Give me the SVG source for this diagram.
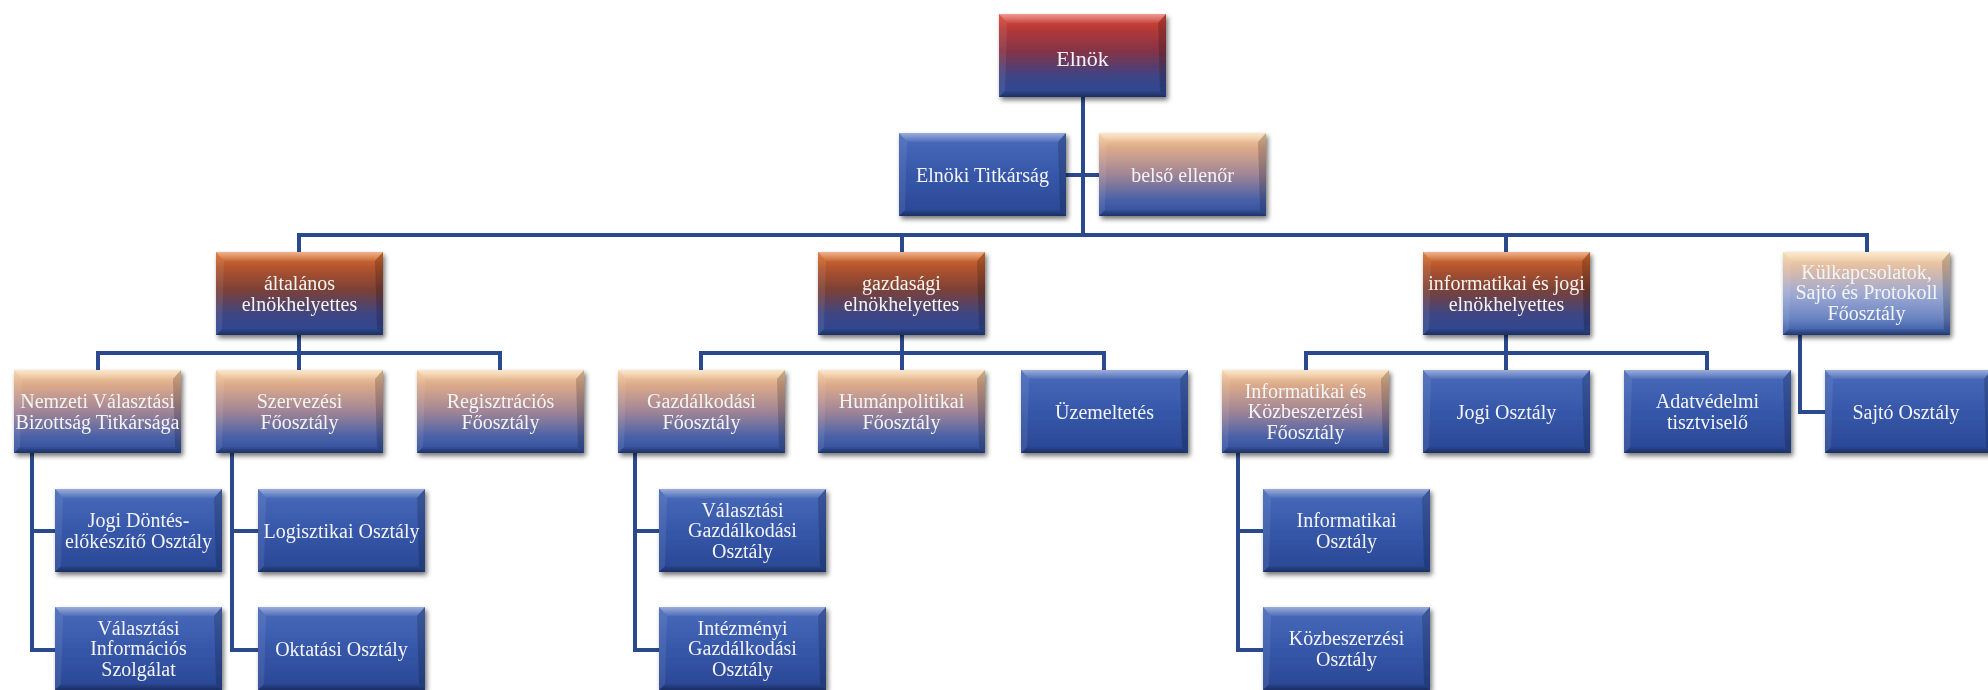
<svg xmlns="http://www.w3.org/2000/svg" xmlns:xlink="http://www.w3.org/1999/xlink" width="1988" height="690" viewBox="0 0 1988 690">
<style>
.lbl{font-family:"Liberation Serif","Times New Roman",serif;font-size:20px;fill:#f4f4f4;text-anchor:middle}
.big{font-size:22px}
.conn{fill:none;stroke:#2b4a8e;stroke-width:4;stroke-linejoin:miter;stroke-linecap:butt}
.box{filter:url(#sh)}
</style>
<defs>
<filter id="sh" x="-10%" y="-10%" width="125%" height="130%">
<feDropShadow dx="2" dy="3" stdDeviation="2.5" flood-color="#000" flood-opacity="0.55"/>
</filter>
<linearGradient id="gBlue" x1="0" y1="0" x2="0" y2="1">
<stop offset="0" stop-color="#4a6bbb"/><stop offset="0.5" stop-color="#3657a9"/><stop offset="1" stop-color="#2a4794"/>
</linearGradient>
<linearGradient id="gRed" x1="0" y1="0" x2="0" y2="1">
<stop offset="0" stop-color="#e0493a"/><stop offset="0.18" stop-color="#b43a38"/><stop offset="0.45" stop-color="#843346"/><stop offset="0.75" stop-color="#3e4486"/><stop offset="1" stop-color="#2b4894"/>
</linearGradient>
<linearGradient id="gOrange" x1="0" y1="0" x2="0" y2="1">
<stop offset="0" stop-color="#e0742f"/><stop offset="0.18" stop-color="#b3552d"/><stop offset="0.45" stop-color="#7c4135"/><stop offset="0.75" stop-color="#3e4584"/><stop offset="1" stop-color="#2b4894"/>
</linearGradient>
<linearGradient id="gPeach" x1="0" y1="0" x2="0" y2="1">
<stop offset="0" stop-color="#f8d3a2"/><stop offset="0.18" stop-color="#dcaa8a"/><stop offset="0.5" stop-color="#a08596"/><stop offset="0.8" stop-color="#4b62a8"/><stop offset="1" stop-color="#2f4d9c"/>
</linearGradient>
<linearGradient id="gKul" x1="0" y1="0" x2="0" y2="1">
<stop offset="0" stop-color="#fad8a8"/><stop offset="0.18" stop-color="#e2bea4"/><stop offset="0.5" stop-color="#9eaad2"/><stop offset="0.8" stop-color="#6a84c2"/><stop offset="1" stop-color="#3355a4"/>
</linearGradient>
<linearGradient id="bTop" x1="0" y1="0" x2="0" y2="1">
<stop offset="0" stop-color="#fff" stop-opacity="0.45"/><stop offset="1" stop-color="#fff" stop-opacity="0.05"/>
</linearGradient>
<linearGradient id="bBot" x1="0" y1="0" x2="0" y2="1">
<stop offset="0" stop-color="#000" stop-opacity="0.05"/><stop offset="1" stop-color="#000" stop-opacity="0.35"/>
</linearGradient>
<g id="bevel">
<polygon points="0,0 167,0 159,9 8,9" fill="url(#bTop)"/>
<polygon points="0,83 167,83 161,77 6,77" fill="url(#bBot)"/>
<polygon points="0,0 8,9 6,77 0,83" fill="#fff" fill-opacity="0.08"/>
<polygon points="167,0 159,9 161,77 167,83" fill="#000" fill-opacity="0.18"/>
</g>
</defs>
<rect width="1988" height="690" fill="#fff"/>

<g id="connectors">
<path class="conn" d="M1083 97V235M299 235H1867M299 233V252M902 233V252M1506 233V252M1867 233V252"/>
<path class="conn" d="M1066 175H1099"/>
<path class="conn" d="M299 335V353M98 353H500M98 351V370M299 351V370M500 351V370"/>
<path class="conn" d="M902 335V353M701 353H1104M701 351V370M902 351V370M1104 351V370"/>
<path class="conn" d="M1506 335V353M1306 353H1707M1306 351V370M1506 351V370M1707 351V370"/>
<path class="conn" d="M1800 335V412H1825"/>
<path class="conn" d="M32 453V650H55M32 531H55"/>
<path class="conn" d="M232 453V650H258M232 531H258"/>
<path class="conn" d="M635 453V650H659M635 531H659"/>
<path class="conn" d="M1238 453V650H1263M1238 531H1263"/>
</g>

<g id="n-elnok" class="box" transform="translate(999,14)"><rect width="167" height="83" fill="url(#gRed)"/><use href="#bevel"/><text class="lbl big" x="83.5" y="52">Elnök</text></g>
<g id="n-titkarsag" class="box" transform="translate(899,133)"><rect width="167" height="83" fill="url(#gBlue)"/><use href="#bevel"/><text class="lbl" x="83.5" y="48.5">Elnöki Titkárság</text></g>
<g id="n-belso" class="box" transform="translate(1099,133)"><rect width="167" height="83" fill="url(#gPeach)"/><use href="#bevel"/><text class="lbl" x="83.5" y="48.5">belső ellenőr</text></g>

<g id="n-altalanos" class="box" transform="translate(216,252)"><rect width="167" height="83" fill="url(#gOrange)"/><use href="#bevel"/><text class="lbl" x="83.5" y="38">általános<tspan x="83.5" dy="20.5">elnökhelyettes</tspan></text></g>
<g id="n-gazdasagi" class="box" transform="translate(818,252)"><rect width="167" height="83" fill="url(#gOrange)"/><use href="#bevel"/><text class="lbl" x="83.5" y="38">gazdasági<tspan x="83.5" dy="20.5">elnökhelyettes</tspan></text></g>
<g id="n-infjogi" class="box" transform="translate(1423,252)"><rect width="167" height="83" fill="url(#gOrange)"/><use href="#bevel"/><text class="lbl" x="83.5" y="38">informatikai és jogi<tspan x="83.5" dy="20.5">elnökhelyettes</tspan></text></g>
<g id="n-kulkapcs" class="box" transform="translate(1783,252)"><rect width="167" height="83" fill="url(#gKul)"/><use href="#bevel"/><text class="lbl" x="83.5" y="26.5">Külkapcsolatok,<tspan x="83.5" dy="20.5">Sajtó és Protokoll</tspan><tspan x="83.5" dy="20.5">Főosztály</tspan></text></g>

<g id="n-nvb" class="box" transform="translate(14,370)"><rect width="167" height="83" fill="url(#gPeach)"/><use href="#bevel"/><text class="lbl" x="83.5" y="38">Nemzeti Választási<tspan x="83.5" dy="20.5">Bizottság Titkársága</tspan></text></g>
<g id="n-szervezesi" class="box" transform="translate(216,370)"><rect width="167" height="83" fill="url(#gPeach)"/><use href="#bevel"/><text class="lbl" x="83.5" y="38">Szervezési<tspan x="83.5" dy="20.5">Főosztály</tspan></text></g>
<g id="n-regisztracios" class="box" transform="translate(417,370)"><rect width="167" height="83" fill="url(#gPeach)"/><use href="#bevel"/><text class="lbl" x="83.5" y="38">Regisztrációs<tspan x="83.5" dy="20.5">Főosztály</tspan></text></g>
<g id="n-gazdalkodasi" class="box" transform="translate(618,370)"><rect width="167" height="83" fill="url(#gPeach)"/><use href="#bevel"/><text class="lbl" x="83.5" y="38">Gazdálkodási<tspan x="83.5" dy="20.5">Főosztály</tspan></text></g>
<g id="n-human" class="box" transform="translate(818,370)"><rect width="167" height="83" fill="url(#gPeach)"/><use href="#bevel"/><text class="lbl" x="83.5" y="38">Humánpolitikai<tspan x="83.5" dy="20.5">Főosztály</tspan></text></g>
<g id="n-uzem" class="box" transform="translate(1021,370)"><rect width="167" height="83" fill="url(#gBlue)"/><use href="#bevel"/><text class="lbl" x="83.5" y="48.5">Üzemeltetés</text></g>
<g id="n-infkozb" class="box" transform="translate(1222,370)"><rect width="167" height="83" fill="url(#gPeach)"/><use href="#bevel"/><text class="lbl" x="83.5" y="27.5">Informatikai és<tspan x="83.5" dy="20.5">Közbeszerzési</tspan><tspan x="83.5" dy="20.5">Főosztály</tspan></text></g>
<g id="n-jogi" class="box" transform="translate(1423,370)"><rect width="167" height="83" fill="url(#gBlue)"/><use href="#bevel"/><text class="lbl" x="83.5" y="48.5">Jogi Osztály</text></g>
<g id="n-adatv" class="box" transform="translate(1624,370)"><rect width="167" height="83" fill="url(#gBlue)"/><use href="#bevel"/><text class="lbl" x="83.5" y="38">Adatvédelmi<tspan x="83.5" dy="20.5">tisztviselő</tspan></text></g>
<g id="n-sajto" class="box" transform="translate(1825,370)"><rect width="167" height="83" fill="url(#gBlue)"/><use href="#bevel"/><text class="lbl" x="81" y="48.5">Sajtó Osztály</text></g>

<g id="n-jogidontes" class="box" transform="translate(55,489)"><rect width="167" height="83" fill="url(#gBlue)"/><use href="#bevel"/><text class="lbl" x="83.5" y="38">Jogi Döntés-<tspan x="83.5" dy="20.5">előkészítő Osztály</tspan></text></g>
<g id="n-vis" class="box" transform="translate(55,607)"><rect width="167" height="83" fill="url(#gBlue)"/><use href="#bevel"/><text class="lbl" x="83.5" y="27.5">Választási<tspan x="83.5" dy="20.5">Információs</tspan><tspan x="83.5" dy="20.5">Szolgálat</tspan></text></g>
<g id="n-logisztikai" class="box" transform="translate(258,489)"><rect width="167" height="83" fill="url(#gBlue)"/><use href="#bevel"/><text class="lbl" x="83.5" y="48.5">Logisztikai Osztály</text></g>
<g id="n-oktatasi" class="box" transform="translate(258,607)"><rect width="167" height="83" fill="url(#gBlue)"/><use href="#bevel"/><text class="lbl" x="83.5" y="48.5">Oktatási Osztály</text></g>
<g id="n-valgazd" class="box" transform="translate(659,489)"><rect width="167" height="83" fill="url(#gBlue)"/><use href="#bevel"/><text class="lbl" x="83.5" y="27.5">Választási<tspan x="83.5" dy="20.5">Gazdálkodási</tspan><tspan x="83.5" dy="20.5">Osztály</tspan></text></g>
<g id="n-intgazd" class="box" transform="translate(659,607)"><rect width="167" height="83" fill="url(#gBlue)"/><use href="#bevel"/><text class="lbl" x="83.5" y="27.5">Intézményi<tspan x="83.5" dy="20.5">Gazdálkodási</tspan><tspan x="83.5" dy="20.5">Osztály</tspan></text></g>
<g id="n-informatikai" class="box" transform="translate(1263,489)"><rect width="167" height="83" fill="url(#gBlue)"/><use href="#bevel"/><text class="lbl" x="83.5" y="38">Informatikai<tspan x="83.5" dy="20.5">Osztály</tspan></text></g>
<g id="n-kozbeszerzesi" class="box" transform="translate(1263,607)"><rect width="167" height="83" fill="url(#gBlue)"/><use href="#bevel"/><text class="lbl" x="83.5" y="38">Közbeszerzési<tspan x="83.5" dy="20.5">Osztály</tspan></text></g>
</svg>
